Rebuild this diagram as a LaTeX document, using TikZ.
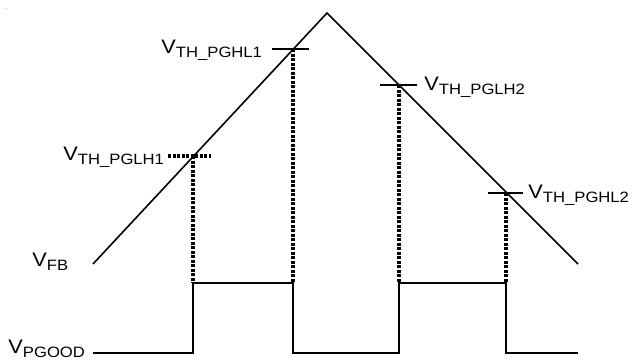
\documentclass[tikz,border=0pt]{standalone}
\usepackage{fontspec}
\setmainfont{Liberation Sans}
\usetikzlibrary{positioning}

\newcommand{\volt}[1]{V\raisebox{-2pt}{\fontsize{7.5}{9}\selectfont #1}}

\begin{document}
\begin{tikzpicture}[
  x=0.5pt, y=-0.5pt,
  wave/.style = {line width=0.8pt, line join=miter},
  tick/.style = {line width=0.8pt},
  guide/.style = {line width=1.6pt, dash pattern=on 1.5pt off 0.75pt},
  lbl/.style = {inner sep=0pt, anchor=base west, font=\fontsize{9.8}{12}\selectfont, xscale=1.11, transform shape}
  ]
  \useasboundingbox (0,0) rectangle (633,360);
  \fill[gray!60] (5.5,7.5) rectangle (6.5,8.5);

    % Feedback ramp
  \coordinate (fb-start) at (93,264);
  \coordinate (fb-top) at (327,13);
  \coordinate (fb-end) at (578,264);
  \draw[wave] (fb-start) -- (fb-top) -- (fb-end);

    % Threshold crossings
  \coordinate (lh1) at (193,156);
  \coordinate (hl1) at (293,49);
  \coordinate (lh2) at (399,85);
  \coordinate (hl2) at (506,193);

  \draw[guide] (168,156) coordinate (lh1-l) -- (211,156) coordinate (lh1-r);
  \draw[tick] (272,49) coordinate (hl1-l) -- (309,49) coordinate (hl1-r);
  \draw[tick] (380,85) coordinate (lh2-l) -- (417,85) coordinate (lh2-r);
  \draw[tick] (488,193) coordinate (hl2-l) -- (523,193) coordinate (hl2-r);

    % PGOOD waveform
  \coordinate (pg-start) at (93,353);
  \coordinate (lh1-hi) at (193,283);
  \coordinate (hl1-lo) at (293,353);
  \coordinate (lh2-hi) at (399,283);
  \coordinate (hl2-lo) at (506,353);
  \coordinate (pg-end) at (578,353);
  \draw[wave] (pg-start) -| (lh1-hi) -| (hl1-lo) -| (lh2-hi) -| (hl2-lo) -- (pg-end);

  \draw[guide] (lh1) -- (lh1-hi);
  \draw[guide] (hl1) -- (hl1 |- lh1-hi);
  \draw[guide] (lh2) -- (lh2-hi);
  \draw[guide] (hl2) -- (hl2 |- lh2-hi);

    % Labels
  \node[lbl] (vth-lh1) at (63,160) {\volt{TH\_PGLH1}};
  \node[lbl] (vth-hl1) at (161,53) {\volt{TH\_PGHL1}};
  \node[lbl] (vth-lh2) at (424,90) {\volt{TH\_PGLH2}};
  \node[lbl] (vth-hl2) at (528,198) {\volt{TH\_PGHL2}};
  \node[lbl] (vfb) at (32,266) {\volt{FB}};
  \node[lbl] (vpgood) at (8,353) {\volt{PGOOD}};

\end{tikzpicture}
\end{document}
